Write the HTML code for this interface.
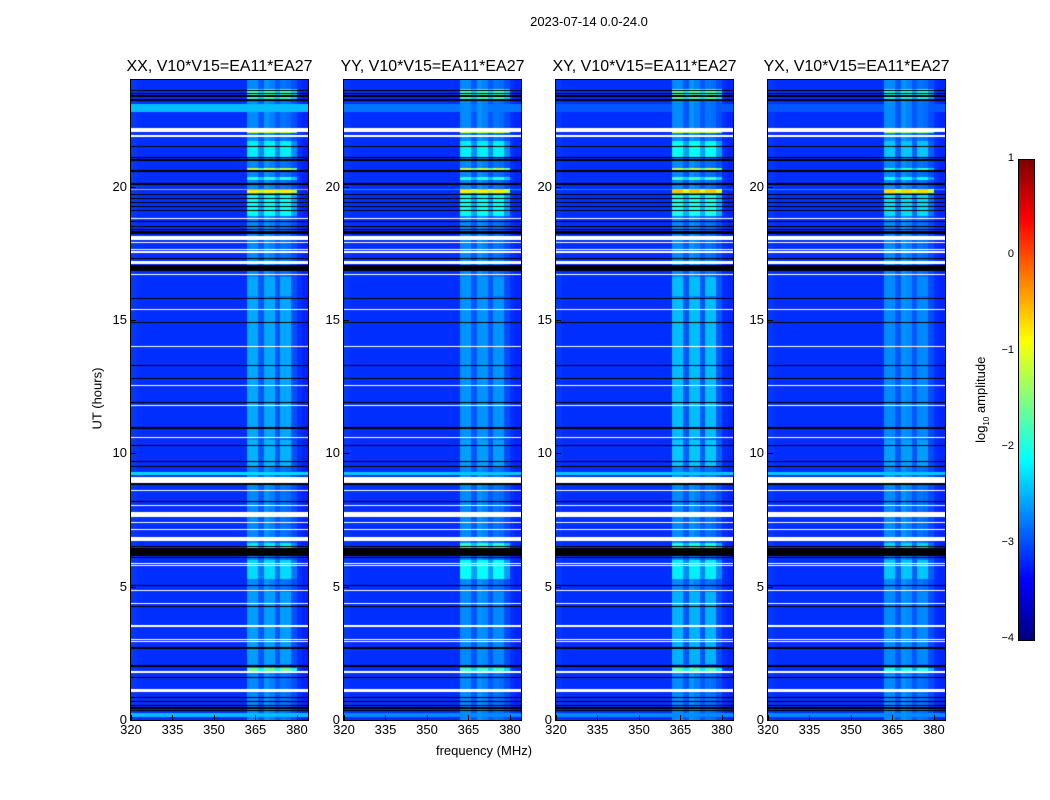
<!DOCTYPE html>
<html><head><meta charset="utf-8">
<style>
body{margin:0;background:#fff;font-family:"Liberation Sans",sans-serif;}
#root{position:relative;width:1050px;height:800px;overflow:hidden;background:#fff;}
.t{position:absolute;color:#000;white-space:nowrap;}
canvas{position:absolute;}
.frame{position:absolute;border:1px solid #000;box-sizing:border-box;}
</style></head><body>
<div id="root">
<div class="t" style="left:489px;top:14px;width:200px;text-align:center;font-size:13px;">2023-07-14 0.0-24.0</div>
<div class="t" style="left:384px;top:743px;width:200px;text-align:center;font-size:13px;">frequency (MHz)</div>
<div class="t" style="left:47px;top:391px;width:100px;text-align:center;font-size:13px;transform:rotate(-90deg);">UT (hours)</div>
<div class="t" style="left:922px;top:391px;width:120px;text-align:center;font-size:13px;transform:rotate(-90deg);">log<sub style="font-size:8px">10</sub> amplitude</div>
</div>
<script>
// ---- data ----
const panelTitles = ["XX, V10*V15=EA11*EA27","YY, V10*V15=EA11*EA27","XY, V10*V15=EA11*EA27","YX, V10*V15=EA11*EA27"];
const freqChannels = [320,322,324,326,328,330,332,334,336,338,340,342,344,346,348,350,352,354,356,358,360,362,364,366,368,370,372,374,376,378,380,382];
const baseLevel = [-3.1,-3.15,-3.15,-3.15,-3.15,-3.15,-3.15,-3.15,-3.15,-3.15,-3.15,-3.15,-3.15,-3.15,-3.15,-3.15,-3.15,-3.15,-3.15,-3.15,-3.15,-2.7,-2.7,-2.95,-2.65,-2.75,-2.95,-2.8,-2.85,-3.0,-3.15,-3.2];
const bandShape = [-9,-9,-9,-9,-9,-9,-9,-9,-9,-9,-9,-9,-9,-9,-9,-9,-9,-9,-9,-9,-9,0,0,-0.5,0,0,-0.5,0,0,-0.5,-9,-9];
const whiteFlags = [[22.05,22.2],[21.88,21.93],[18.78,18.83],[18.0,18.15],[17.88,17.92],[17.63,17.67],[17.53,17.57],[17.1,17.2],[16.68,16.74],[15.38,15.42],[13.98,14.03],[12.52,12.57],[11.78,11.82],[10.58,10.62],[8.9,9.1],[8.58,8.62],[8.03,8.07],[7.6,7.8],[7.38,7.42],[7.13,7.17],[6.7,6.85],[5.76,5.8],[5.84,5.88],[4.85,4.89],[4.36,4.4],[3.48,3.52],[3.54,3.58],[2.93,2.97],[2.99,3.03],[1.75,1.85],[1.05,1.15]];
const blackFlags = [23.6,23.5,23.4,23.25,21.5,21.1,21.0,20.58,20.1,19.7,19.55,19.4,19.25,19.1,18.7,18.5,18.4,18.3,18.25,17.3,17.02,16.95,16.88,15.8,14.9,13.3,12.8,11.9,10.95,10.3,9.7,9.5,8.85,8.2,6.5,6.42,6.34,6.26,6.18,6.1,5.05,4.25,2.7,2.05,2.0,1.6,0.85,0.7,0.55,0.45,0.35];
const fullRows = [[22.8,23.1],[19.88,19.93],[9.2,9.3],[0.1,0.25]];
const fullRowLevels = [[-2.45,-2.8,-2.95,-2.95],[-0.4,-2.6,-2.7,-2.6],[-2.3,-2.4,-2.4,-2.4],[-2.45,-2.7,-2.7,-2.7]];
const bandRows = [[22.0,22.05],[23.3,23.65],[20.6,20.7],[19.75,19.87],[20.25,20.35],[21.1,21.7],[18.9,19.7],[6.3,6.65],[5.3,6.0],[1.8,1.95],[9.5,10.5],[2.1,4.8],[10.6,15.8],[15.9,16.6]];
const bandRowLevels = [[-1.0,-1.0,-1.0,-1.2],[-1.8,-1.8,-1.7,-2.0],[-1.2,-1.2,-1.2,-1.9],[-0.8,-0.8,-0.6,-0.7],[-1.9,-1.9,-1.8,-2.1],[-2.2,-2.2,-2.1,-2.4],[-2.1,-2.1,-2.0,-2.3],[-2.2,-1.9,-2.0,-2.3],[-2.3,-2.1,-2.2,-2.4],[-1.6,-1.8,-1.7,-2.0],[-2.5,-2.6,-2.4,-2.6],[-2.6,-2.7,-2.5,-2.7],[-2.55,-2.65,-2.45,-2.7],[-2.55,-2.65,-2.45,-2.7]];
const xTicks = [320,335,350,365,380];
const yTicks = [0,5,10,15,20];
const cbTicks = [1,0,-1,-2,-3,-4];

// ---- layout ----
const root = document.getElementById('root');
const panelX = [131,344,556,768], PT=80, PW=177, PH=640;
const fMin=320,fMax=384,hMin=0,hMax=24,vMin=-4,vMax=1;
const xs=f=>(f-fMin)/(fMax-fMin)*PW;
const ys=h=>PH-(h-hMin)/(hMax-hMin)*PH;
function jet(v){let t=(v-vMin)/(vMax-vMin);t=Math.max(0,Math.min(1,t));
  const c=x=>Math.round(255*Math.max(0,Math.min(1,x)));
  return [c(1.5-Math.abs(4*t-3)),c(1.5-Math.abs(4*t-2)),c(1.5-Math.abs(4*t-1))];}
function addText(txt,l,t,w,align,size,name){const d=document.createElement('div');d.className='t';
  d.style.cssText=`left:${l}px;top:${t}px;width:${w}px;text-align:${align};font-size:${size}px;`;d.textContent=txt;
  
  
  root.appendChild(d);return d;}
function inRange(h,r){return h>=r[0]&&h<r[1];}

panelX.forEach((px,p)=>{
  const cv=document.createElement('canvas');cv.width=PW;cv.height=PH;cv.style.left=px+'px';cv.style.top=PT+'px';
  
  
  root.appendChild(cv);
  const ctx=cv.getContext('2d');
  const rowH=(hMax-hMin)/PH;
  for(let r=0;r<PH;r++){
    const h=hMax-(r+0.5)/PH*(hMax-hMin);
    let mode=null;
    if(whiteFlags.some(w=>inRange(h,w))) mode='white';
    else if(blackFlags.some(b=>Math.abs(h-b)<rowH*0.8)) mode='black';
    let fullIdx=fullRows.findIndex(fr=>inRange(h,fr));
    let bandIdx=bandRows.findIndex(br=>inRange(h,br));
    freqChannels.forEach((f,c)=>{
      const x0=Math.round(xs(f)),x1=Math.round(xs(f+2));
      let col;
      if(mode==='white') col=[255,255,255];
      else if(mode==='black') col=[0,0,0];
      else{
        let v=baseLevel[c];
        if(fullIdx>=0) v=Math.max(v,fullRowLevels[fullIdx][p]);
        if(bandIdx>=0&&bandShape[c]>-5) v=Math.max(v,bandRowLevels[bandIdx][p]+bandShape[c]);
        if(fullIdx===1&&bandShape[c]>-5) v=Math.max(v,-0.6+bandShape[c]*0.5);
        col=jet(v);
      }
      ctx.fillStyle=`rgb(${col[0]},${col[1]},${col[2]})`;
      ctx.fillRect(x0,r,x1-x0,1);
    });
  }
  const fr=document.createElement('div');fr.className='frame';
  fr.style.cssText=`left:${px-1}px;top:${PT-1}px;width:${PW+2}px;height:${PH+2}px;`;
  
  
  root.appendChild(fr);
  addText(panelTitles[p],px-40,58,PW+80,'center',16,'panel-title-'+(p+1));
  xTicks.forEach(t=>{
    addText(String(t),px+xs(t)-20,722,40,'center',13,'x-tick-label');
    const tk=document.createElement('div');tk.style.cssText=`position:absolute;left:${px+xs(t)}px;top:${PT+PH-5}px;width:1px;height:5px;background:#000;`;
    
    
    root.appendChild(tk);
  });
  yTicks.forEach(t=>{
    addText(String(t),px-44,PT+ys(t)-8,40,'right',13,'y-tick-label');
    const tk=document.createElement('div');tk.style.cssText=`position:absolute;left:${px}px;top:${PT+ys(t)}px;width:5px;height:1px;background:#000;`;
    
    
    root.appendChild(tk);
  });
});

// colorbar
const CBX=1019,CBY=160,CBW=15,CBH=480;
const cb=document.createElement('canvas');cb.width=CBW;cb.height=CBH;cb.style.left=CBX+'px';cb.style.top=CBY+'px';


root.appendChild(cb);
const cctx=cb.getContext('2d');
for(let r=0;r<CBH;r++){const v=vMax-(r+0.5)/CBH*(vMax-vMin);const c=jet(v);cctx.fillStyle=`rgb(${c[0]},${c[1]},${c[2]})`;cctx.fillRect(0,r,CBW,1);}
const cbf=document.createElement('div');cbf.className='frame';cbf.style.cssText=`left:${CBX-1}px;top:${CBY-1}px;width:${CBW+2}px;height:${CBH+2}px;`;


root.appendChild(cbf);
cbTicks.forEach(t=>{
  const y=CBY+(vMax-t)/(vMax-vMin)*CBH;
  addText(String(t).replace('-','\u2212'),974,y-8,40,'right',11,'colorbar-tick-label');
});
</script>
</body></html>
